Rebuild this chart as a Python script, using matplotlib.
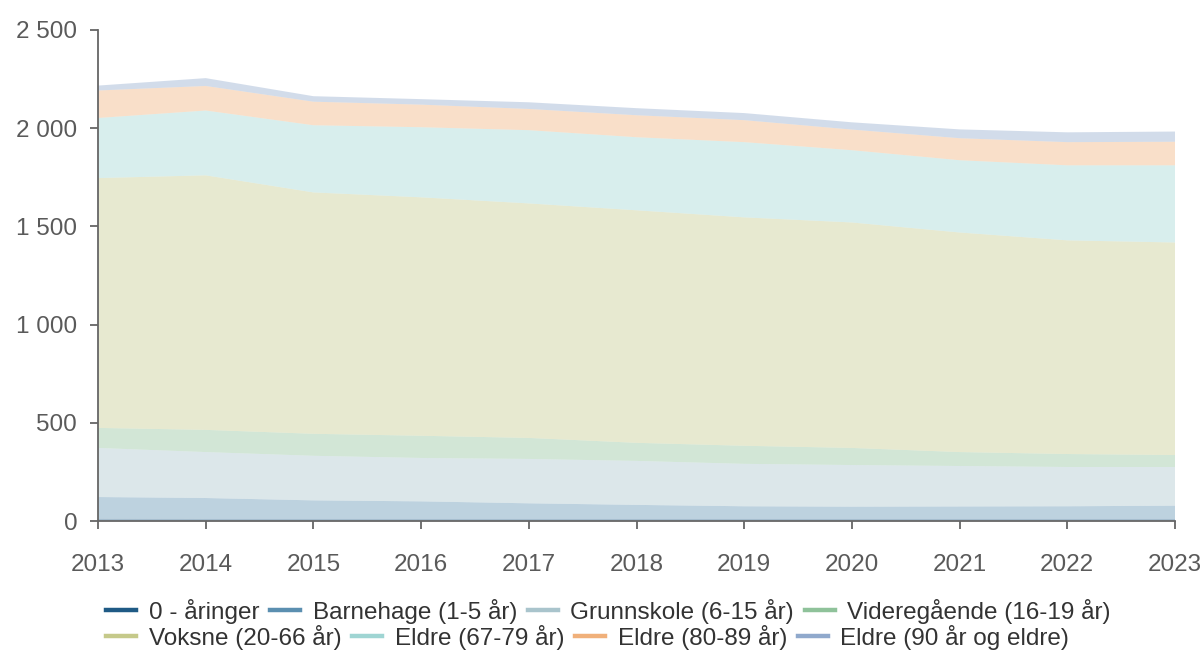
import matplotlib
matplotlib.use("Agg")
import matplotlib.pyplot as plt
from matplotlib.lines import Line2D
from matplotlib.ticker import FuncFormatter

plt.rcParams['font.family'] = ['Liberation Sans', 'DejaVu Sans']

years = [2013, 2014, 2015, 2016, 2017, 2018, 2019, 2020, 2021, 2022, 2023]

labels = ["0 - åringer", "Barnehage (1-5 år)", "Grunnskole (6-15 år)",
          "Videregående (16-19 år)", "Voksne (20-66 år)", "Eldre (67-79 år)",
          "Eldre (80-89 år)", "Eldre (90 år og eldre)"]

aaringer = [12, 11, 11, 11, 11, 11, 11, 11, 11, 11, 11]
barnehage = [110, 106, 94, 89, 79, 71, 64, 62, 63, 64, 67]
grunnskole = [250, 234, 227, 221, 226, 224, 216, 212, 206, 200, 197]
videregaende = [102, 113, 112, 113, 107, 92, 92, 87, 71, 66, 61]
voksne = [1272, 1296, 1229, 1214, 1194, 1184, 1163, 1148, 1118, 1088, 1082]
eldre_67_79 = [306, 330, 342, 357, 373, 372, 383, 368, 368, 382, 393]
eldre_80_89 = [140, 125, 120, 115, 108, 112, 112, 105, 112, 118, 120]
eldre_90 = [25, 40, 28, 28, 34, 36, 36, 37, 45, 50, 52]

series = [aaringer, barnehage, grunnskole, videregaende, voksne,
          eldre_67_79, eldre_80_89, eldre_90]

colors = ["#1f5a85", "#5b8fb0", "#a9c4cc", "#8fc29a", "#c5c98a",
          "#9fd5d3", "#f0b07a", "#90a9cc"]

fig = plt.figure(figsize=(12.03, 6.55), dpi=100)
ax = fig.add_axes([98/1203, 1 - 521/655, (1175 - 98)/1203, (521 - 30)/655])

ax.stackplot(years, *series, colors=colors, alpha=0.4, linewidth=0)

ax.set_xlim(2013, 2023)
ax.set_ylim(0, 2500)
ax.set_xticks(years)
ax.set_yticks([0, 500, 1000, 1500, 2000, 2500])
ax.yaxis.set_major_formatter(FuncFormatter(lambda v, p: f"{int(v):,}".replace(",", " ")))

for s in ["top", "right"]:
    ax.spines[s].set_visible(False)
for s in ["left", "bottom"]:
    ax.spines[s].set_color("#666666")
    ax.spines[s].set_linewidth(1.3)

ax.tick_params(axis="x", direction="out", length=6, width=1.3, color="#666666",
               labelsize=17.5, labelcolor="#5a5a5a", pad=18)
ax.tick_params(axis="y", direction="out", length=6, width=1.3, color="#666666",
               labelsize=17.5, labelcolor="#5a5a5a", pad=9)

handles = [Line2D([0], [0], color=c, lw=3.2) for c in colors]
common = dict(frameon=False, fontsize=17.5, handlelength=1.25, handletextpad=0.5,
              columnspacing=0.45, borderpad=0, borderaxespad=0, ncol=4,
              loc="center left", labelcolor="#333333")
leg1 = fig.legend(handles[:4], labels[:4], bbox_to_anchor=(106/1203, 1 - 611/655), **common)
leg2 = fig.legend(handles[4:], labels[4:], bbox_to_anchor=(106/1203, 1 - 637/655), **common)

fig.savefig("out.png", dpi=100)
